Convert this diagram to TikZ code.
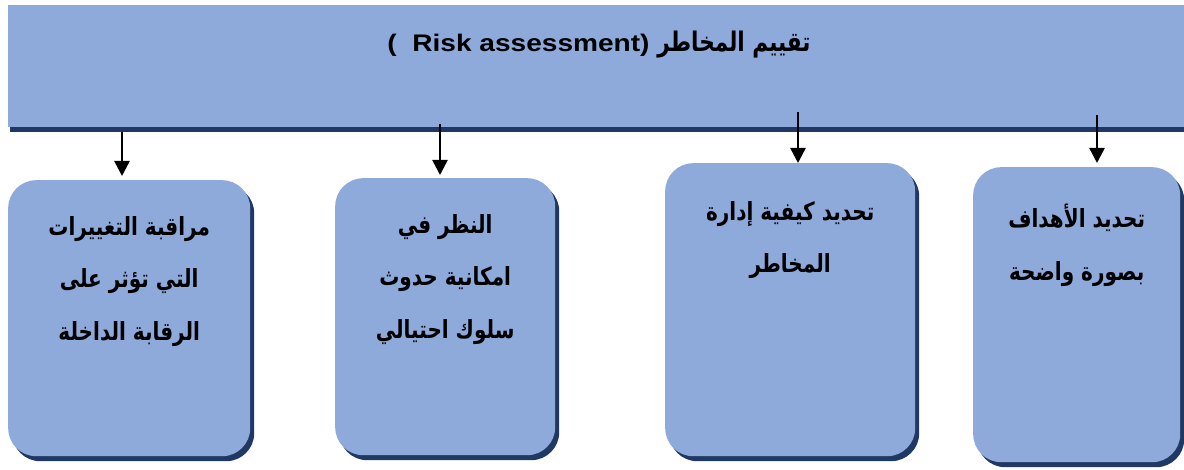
\documentclass[tikz,border=0pt]{standalone}
\usepackage{fontspec}
\setmainfont{Liberation Sans}[FakeStretch=1.17]
\newfontfamily\arabicfont[Script=Arabic,FakeStretch=0.8]{DejaVu Sans}
\TeXXeTstate=1
\usetikzlibrary{arrows.meta,shadows}
\definecolor{boxfill}{HTML}{8EAADB}
\definecolor{shadowc}{HTML}{203864}
\newcommand{\ar}[1]{{\arabicfont\bfseries\beginR #1\endR}}
\begin{document}
\begin{tikzpicture}[x=1pt,y=-1pt,
  bannerbox/.style={fill=boxfill, inner sep=0pt, anchor=north west,
    drop shadow={shadow xshift=2pt,shadow yshift=-5pt,fill=shadowc,opacity=1}},
  boxnode/.style={fill=boxfill, rounded corners=28pt, inner sep=0pt, anchor=north west,
    drop shadow={shadow xshift=4pt,shadow yshift=-5pt,fill=shadowc,opacity=1}},
  boxtext/.style={anchor=north, align=center, inner sep=0pt,
    font=\bfseries\fontsize{25}{52.5}\selectfont},
  titletext/.style={anchor=base, inner sep=0pt, font=\bfseries\fontsize{24}{28}\selectfont},
  arr/.style={line width=2.5pt, -{Triangle[length=15pt,width=15pt]}},
]
\useasboundingbox (0,0) rectangle (1184,470);
\fill[white] (0,0) rectangle (1184,470);

% banner
\node[bannerbox, minimum width=1176pt, minimum height=122pt] (banner) at (8,5) {};
\node[titletext] (title) at (599,52) {(\ \ Risk assessment) {\fontsize{27}{28}\selectfont\ar{تقييم المخاطر}}};

% boxes
\node[boxnode, minimum width=242pt, minimum height=276pt] (b1) at (8,180) {};
\node[boxnode, minimum width=220pt, minimum height=277pt] (b2) at (335,178) {};
\node[boxnode, minimum width=250pt, minimum height=293pt] (b3) at (665,163) {};
\node[boxnode, minimum width=207pt, minimum height=295pt] (b4) at (973,167) {};

% texts
\node[boxtext, yshift=-36pt] (t1) at (b1.north)
  {\ar{مراقبة التغييرات}\\\ar{التي تؤثر على}\\\ar{الرقابة الداخلة}};
\node[boxtext, yshift=-36pt] (t2) at (b2.north)
  {\ar{النظر في}\\\ar{امكانية حدوث}\\\ar{سلوك احتيالي}};
\node[boxtext, yshift=-38pt] (t3) at (b3.north)
  {\ar{تحديد كيفية إدارة}\\\ar{المخاطر}};
\node[boxtext, yshift=-37pt] (t4) at (b4.north)
  {\ar{تحديد الأهداف}\\\ar{بصورة واضحة}};

% arrows
\coordinate (s1) at (122,132);
\coordinate (s2) at (440,124);
\coordinate (s3) at (798,112);
\coordinate (s4) at (1097,115);
\draw[arr, shorten >=4pt] (s1) -- (s1 |- b1.north);
\draw[arr, shorten >=3pt] (s2) -- (s2 |- b2.north);
\draw[arr] (s3) -- (s3 |- b3.north);
\draw[arr, shorten >=4pt] (s4) -- (s4 |- b4.north);
\end{tikzpicture}
\end{document}
